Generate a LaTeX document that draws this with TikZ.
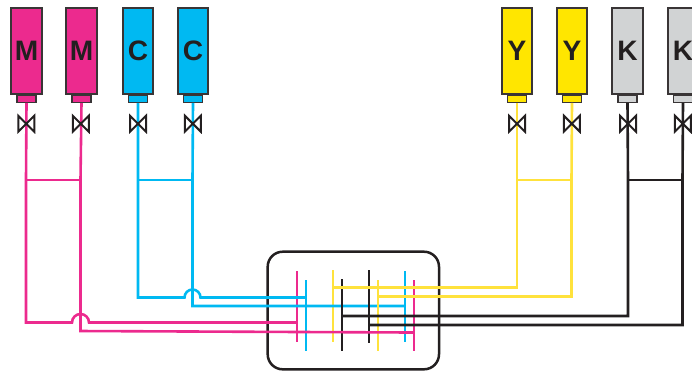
\documentclass[tikz,border=0pt]{standalone}
\usepackage{fontspec}
\setmainfont{Liberation Sans}
\usetikzlibrary{positioning}
\definecolor{magenta1}{HTML}{EC2A8E}
\definecolor{cian1}{HTML}{00B9F2}
\definecolor{amarillo1}{HTML}{FFE600}
\definecolor{amarillo2}{HTML}{FFE23C}
\definecolor{gris1}{HTML}{D1D3D4}
\definecolor{negro1}{HTML}{231F20}
\tikzset{
  tanque/.style={draw=negro1!90, line width=0.16mm, minimum width=3.05mm, minimum height=8.55mm, inner sep=0pt,
    text=negro1, font=\fontsize{8}{8}\selectfont\bfseries},
  boquilla/.style={draw=negro1!90, line width=0.13mm, minimum width=1.9mm, minimum height=0.7mm, inner sep=0pt},
  valvula/.style={minimum width=1.95mm, minimum height=1.95mm, inner sep=0pt,
    path picture={\draw[negro1, line width=0.2mm, line join=miter]
      ([shift={(-0.8mm,0.8mm)}]path picture bounding box.center) -- ([shift={(0.8mm,-0.8mm)}]path picture bounding box.center)
      -- ([shift={(0.8mm,0.8mm)}]path picture bounding box.center) -- ([shift={(-0.8mm,-0.8mm)}]path picture bounding box.center) -- cycle;}},
  tubo/.style={line width=0.26mm, line join=miter},
  barra/.style={line width=0.28mm}
}
\begin{document}
\begin{tikzpicture}[x=0.1mm, y=-0.1mm]
    \clip (0,0) rectangle (692,371);

    % Tanques
    \node[tanque, fill=magenta1] (tM1) at (26.5,51) {M};
    \node[tanque, fill=magenta1] (tM2) at (81.5,51) {M};
    \node[tanque, fill=cian1] (tC1) at (138,51) {C};
    \node[tanque, fill=cian1] (tC2) at (193,51) {C};
    \node[tanque, fill=amarillo1] (tY1) at (517,51) {Y};
    \node[tanque, fill=amarillo1] (tY2) at (572,51) {Y};
    \node[tanque, fill=gris1] (tK1) at (627.5,51) {K};
    \node[tanque, fill=gris1] (tK2) at (683,51) {K};

    % Boquillas
    \node[boquilla, fill=magenta1, below=0pt of tM1] (bM1) {};
    \node[boquilla, fill=magenta1, below=0pt of tM2] (bM2) {};
    \node[boquilla, fill=cian1, below=0pt of tC1] (bC1) {};
    \node[boquilla, fill=cian1, below=0pt of tC2] (bC2) {};
    \node[boquilla, fill=amarillo1, below=0pt of tY1] (bY1) {};
    \node[boquilla, fill=amarillo1, below=0pt of tY2] (bY2) {};
    \node[boquilla, fill=gris1, below=0pt of tK1] (bK1) {};
    \node[boquilla, fill=gris1, below=0pt of tK2] (bK2) {};

    % Uniones
    \coordinate (uM1) at (26,180);
    \coordinate (uM2) at (80.5,180);
    \coordinate (uC1) at (138,180);
    \coordinate (uC2) at (192.5,180);
    \coordinate (uY1) at (517,180);
    \coordinate (uY2) at (571.5,180);
    \coordinate (uK1) at (628,180);
    \coordinate (uK2) at (682.5,180);

    % Caja
    \draw[negro1, line width=0.25mm, rounded corners=1.5mm] (267.7,251.7) rectangle (439,369.3);

    % Barras
    \coordinate (mA) at (297,271);  \coordinate (mB) at (297,342);
    \coordinate (cA) at (306,280);  \coordinate (cB) at (306,351);
    \coordinate (yA) at (333,270);  \coordinate (yB) at (333,342);
    \coordinate (kA) at (342,279);  \coordinate (kB) at (342,351);
    \coordinate (kC) at (369,270);  \coordinate (kD) at (369,343);
    \coordinate (yC) at (378,280);  \coordinate (yD) at (378,351);
    \coordinate (cC) at (405,271);  \coordinate (cD) at (405,342);
    \coordinate (mC) at (414,280);  \coordinate (mD) at (414,351);

    \draw[barra, magenta1] (mA) -- (mB);
    \draw[barra, magenta1] (mC) -- (mD);
    \draw[barra, amarillo2] (yA) -- (yB);

    % Tuberias cian
    \draw[tubo, cian1] (bC2.south) -- (uC2) -- (192.5,306) -- (405,306);
    \draw[tubo, cian1] (bC1.south) -- (uC1) -- (138,297.5) -- (184.5,297.5)
        arc[start angle=180, end angle=0, radius=0.8mm] -- (306,297.5);
    \draw[barra, cian1] (uC1) -- (uC2);
    \draw[barra, cian1] (cA) -- (cB);
    \draw[barra, cian1] (cC) -- (cD);

    \draw[barra, negro1] (kA) -- (kB);
    \draw[barra, negro1] (kC) -- (kD);
    \draw[barra, amarillo2] (yC) -- (yD);

    % Tuberias amarillas
    \draw[tubo, amarillo2] (bY1.south) -- (uY1) -- (517,287.5) -- (333,287.5);
    \draw[tubo, amarillo2] (bY2.south) -- (uY2) -- (571.5,296.5) -- (378,296.5);
    \draw[barra, amarillo2] (uY1) -- (uY2);

    % Tuberias negras
    \draw[tubo, negro1] (bK1.south) -- (uK1) -- (628,316) -- (342,316);
    \draw[tubo, negro1] (bK2.south) -- (uK2) -- (682.5,325) -- (369,325);
    \draw[barra, negro1] (uK1) -- (uK2);

    % Tuberias magenta
    \draw[tubo, magenta1] (bM2.south) -- (uM2) -- (80.5,331) -- (414,332.5);
    \draw[tubo, magenta1] (bM1.south) -- (uM1) -- (26,322.5) -- (72,322.5)
        arc[start angle=180, end angle=0, radius=0.85mm] -- (297,322.5);
    \draw[barra, magenta1] (uM1) -- (uM2);

    % Valvulas
    \node[valvula] (vM1) at (26.3,123.7) {};
    \node[valvula] (vM2) at (80.8,123.7) {};
    \node[valvula] (vC1) at (138,123.7) {};
    \node[valvula] (vC2) at (192.8,123.7) {};
    \node[valvula] (vY1) at (517,123.7) {};
    \node[valvula] (vY2) at (571.8,123.7) {};
    \node[valvula] (vK1) at (628,123.7) {};
    \node[valvula] (vK2) at (682.8,123.7) {};
\end{tikzpicture}
\end{document}
